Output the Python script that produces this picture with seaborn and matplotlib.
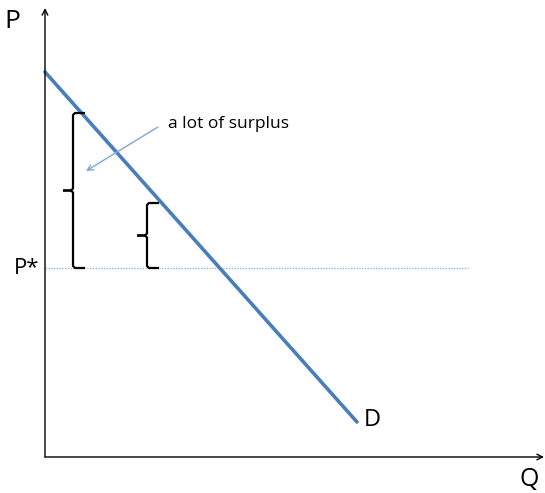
import numpy as np
import matplotlib
matplotlib.use('Agg')
import matplotlib.pyplot as plt
import seaborn as sns

# data (Q, P in diagram units, origin at the axes corner)
demand_q = [0, 312]
demand_p = [385, 35]
p_star = 189
p_star_end = 423
# braces: x position, top, bottom
brace_q = [28, 102]
brace_top = [344, 254]
brace_bottom = [189, 189]
note_text = 'a lot of surplus'


def draw_brace(ax, q, top, bottom, hook=12, nib=10):
    mid = (top + bottom) / 2
    xs = [q + hook, q + 2, q, q, q - 2, q - nib]
    ys = [top, top, top - 2, mid + 2, mid, mid]
    ax.plot(xs, ys, color='black', lw=1.6, solid_capstyle='butt')
    xs = [q - nib, q - 2, q, q, q + 2, q + hook]
    ys = [mid, mid, mid - 2, bottom + 2, bottom, bottom]
    ax.plot(xs, ys, color='black', lw=1.6, solid_capstyle='butt')


sns.set_style('white')
plt.rcParams['font.family'] = ['Open Sans', 'DejaVu Sans']

fig = plt.figure(figsize=(5.45, 4.93), dpi=100)
ax = fig.add_axes([0, 0, 1, 1])
ax.set_xlim(-45, 500)
ax.set_ylim(-36, 457)
ax.axis('off')

# axes with arrows
ax.annotate('', xy=(0, 449), xytext=(0, 0),
            arrowprops=dict(arrowstyle='->', color='black', lw=1.0, shrinkA=0, shrinkB=0))
ax.annotate('', xy=(499, 0), xytext=(0, 0),
            arrowprops=dict(arrowstyle='->', color='black', lw=1.0, shrinkA=0, shrinkB=0))

# price line
ax.plot([0, p_star_end], [p_star, p_star], color='#8EB4E3', lw=1.0, ls=(0, (1, 1)))

# demand curve
sns.lineplot(x=demand_q, y=demand_p, ax=ax, color='#4A7EBB', lw=2.6)

for q, t, b in zip(brace_q, brace_top, brace_bottom):
    draw_brace(ax, q, t, b)

# note
ax.annotate('', xy=(41, 286), xytext=(113, 330),
            arrowprops=dict(arrowstyle='->', color='#7FA6D6', lw=1.0, shrinkA=0, shrinkB=0))
ax.text(123, 333, note_text, fontsize=12.5, ha='left', va='center', color='black')

# labels
ax.text(-33, 435, 'P', fontsize=19, ha='center', va='center', color='black')
ax.text(-18, 189, 'P*', fontsize=16, ha='center', va='center', color='black')
ax.text(327, 37, 'D', fontsize=17, ha='center', va='center', color='black')
ax.text(484, -22, 'Q', fontsize=18, ha='center', va='center', color='black')

fig.savefig('out.png', dpi=100)
